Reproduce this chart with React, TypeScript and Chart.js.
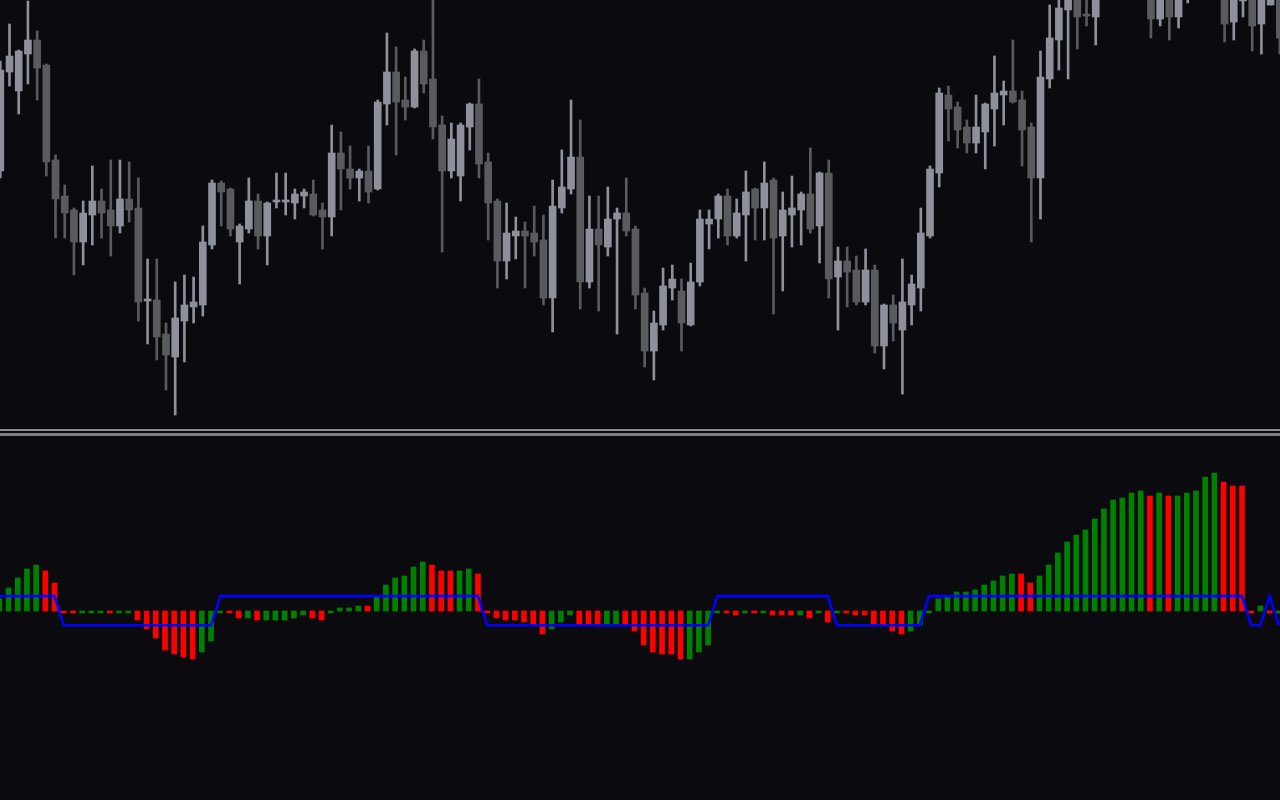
import React, { useEffect, useRef } from "react";
import { Chart, registerables } from "chart.js";

Chart.register(...registerables);

// ---- price candles (points) ----
const opens = [
  259, 358, 339, 376, 390, 365, 270, 234, 220, 188, 215, 229, 220, 204, 231, 222, 129, 130, 96, 73,
  109, 123, 125, 185, 247, 241, 188, 201, 229, 194, 228, 228, 227, 234, 236, 220, 213, 277, 261, 252,
  259, 241, 326, 358, 330, 323, 379, 351, 305, 259, 254, 303, 326, 268, 229, 169, 194, 199, 197, 190,
  132, 222, 241, 273, 148, 201, 183, 211, 217, 201, 137, 79, 105, 142, 139, 105, 148, 206, 211, 234,
  194, 215, 241, 222, 250, 194, 215, 220, 236, 204, 257, 153, 169, 160, 128, 160, 84, 125, 100, 125,
  142, 194, 257, 335, 323, 303, 287, 298, 321, 335, 339, 330, 303, 252, 351, 390, 420, 455, 415, 413,
  440, 470, 490, 475, 500, 450, 411, 450, 413, 440, 460, 480, 460, 450, 408, 429, 445, 406, 425, 440,
];
const highs = [
  369, 406, 380, 429, 399, 366, 275, 245, 222, 229, 264, 241, 270, 270, 268, 252, 171, 171, 107, 148,
  155, 153, 204, 250, 249, 242, 206, 252, 236, 228, 257, 257, 241, 241, 250, 227, 305, 298, 284, 261,
  284, 330, 397, 383, 353, 381, 390, 432, 314, 307, 307, 327, 351, 277, 231, 227, 213, 208, 224, 215,
  250, 280, 330, 310, 234, 234, 243, 222, 252, 204, 142, 119, 162, 165, 151, 167, 220, 220, 236, 241,
  231, 259, 242, 268, 252, 238, 254, 238, 282, 258, 270, 183, 183, 174, 181, 165, 126, 135, 171, 155,
  222, 264, 342, 344, 328, 310, 335, 327, 374, 349, 390, 339, 307, 379, 425, 440, 465, 470, 460, 460,
  485, 505, 500, 510, 515, 470, 460, 465, 470, 480, 495, 500, 490, 470, 460, 450, 460, 455, 470, 455,
];
const lows = [
  252, 344, 316, 346, 330, 254, 192, 192, 155, 165, 185, 192, 174, 197, 208, 109, 86, 70, 40, 15,
  68, 107, 114, 181, 204, 194, 146, 197, 181, 165, 222, 215, 211, 222, 214, 181, 194, 220, 241, 229,
  227, 240, 305, 275, 310, 322, 337, 291, 178, 252, 229, 280, 252, 190, 142, 151, 171, 142, 174, 125,
  98, 217, 236, 121, 142, 119, 174, 96, 194, 121, 63, 50, 100, 130, 79, 104, 144, 181, 192, 185,
  192, 169, 190, 190, 116, 139, 183, 185, 197, 167, 132, 100, 123, 125, 125, 77, 61, 89, 36, 105,
  119, 192, 243, 289, 282, 277, 277, 261, 284, 305, 327, 264, 188, 211, 342, 360, 351, 381, 404, 385,
  435, 460, 465, 470, 470, 392, 404, 390, 402, 427, 440, 450, 438, 388, 390, 413, 379, 376, 425, 376,
];
const closes = [
  360, 374, 379, 390, 362, 268, 231, 217, 188, 217, 229, 217, 204, 231, 220, 128, 130, 93, 75, 112,
  125, 128, 188, 247, 238, 201, 204, 229, 194, 227, 229, 229, 236, 238, 215, 213, 277, 261, 252, 259,
  238, 328, 358, 328, 323, 379, 346, 303, 259, 291, 305, 326, 266, 227, 169, 197, 199, 194, 188, 132,
  224, 243, 273, 148, 201, 185, 211, 217, 199, 135, 79, 107, 144, 151, 107, 148, 211, 211, 234, 194,
  217, 238, 222, 247, 192, 220, 222, 236, 201, 257, 151, 169, 158, 128, 160, 84, 125, 107, 128, 146,
  197, 261, 337, 321, 300, 287, 303, 326, 337, 339, 328, 300, 252, 353, 392, 422, 450, 413, 414, 440,
  470, 490, 475, 500, 480, 411, 445, 413, 450, 460, 480, 460, 470, 406, 440, 430, 404, 435, 445, 392,
];

// ---- oscillator histogram and trend signal ----
const histValues = [
  12, 23, 33, 42, 46, 40, 28, -2, -2, -2, -2, -2, -2, -2, -2, -9, -18, -27, -39, -43,
  -46, -48, -41, -30, -2, -2, -7, -7, -9, -9, -9, -9, -7, -4, -7, -9, -2, 3, 3, 5,
  5, 14, 26, 33, 35, 44, 49, 46, 40, 40, 40, 42, 37, -2, -7, -9, -9, -11, -14, -23,
  -18, -11, -4, -14, -14, -14, -14, -14, -14, -20, -34, -41, -43, -43, -48, -48, -41, -34, -2, -2,
  -4, -2, -2, -2, -4, -4, -4, -4, -7, -2, -11, -2, -2, -4, -4, -14, -14, -20, -23, -20,
  -14, -2, 12, 14, 19, 19, 21, 26, 30, 35, 37, 37, 28, 35, 46, 58, 69, 76, 81, 92,
  102, 111, 113, 118, 120, 115, 118, 115, 115, 118, 120, 134, 138, 129, 125, 125, -2, 5, -2, -2,
];
// "g" = rising bar, "r" = falling bar
const histTrend = [
  "g", "g", "g", "g", "g", "r", "r", "r", "r", "g", "g", "g", "r", "g", "g", "r", "r", "r", "r", "r",
  "r", "r", "g", "g", "g", "r", "r", "g", "r", "g", "g", "g", "g", "g", "r", "r", "g", "g", "g", "g",
  "r", "g", "g", "g", "g", "g", "g", "r", "r", "r", "g", "g", "r", "r", "r", "r", "r", "r", "r", "r",
  "g", "g", "g", "r", "r", "r", "g", "g", "r", "r", "r", "r", "r", "r", "r", "g", "g", "g", "g", "r",
  "r", "g", "r", "g", "r", "r", "r", "g", "r", "g", "r", "g", "r", "r", "r", "r", "r", "r", "r", "g",
  "g", "g", "g", "g", "g", "g", "g", "g", "g", "g", "g", "r", "r", "g", "g", "g", "g", "g", "g", "g",
  "g", "g", "g", "g", "g", "r", "g", "r", "g", "g", "g", "g", "g", "r", "r", "r", "r", "g", "r", "g",
];
const signal = [
  1, 1, 1, 1, 1, 1, 1, -1, -1, -1, -1, -1, -1, -1, -1, -1, -1, -1, -1, -1,
  -1, -1, -1, -1, 1, 1, 1, 1, 1, 1, 1, 1, 1, 1, 1, 1, 1, 1, 1, 1,
  1, 1, 1, 1, 1, 1, 1, 1, 1, 1, 1, 1, 1, -1, -1, -1, -1, -1, -1, -1,
  -1, -1, -1, -1, -1, -1, -1, -1, -1, -1, -1, -1, -1, -1, -1, -1, -1, -1, 1, 1,
  1, 1, 1, 1, 1, 1, 1, 1, 1, 1, 1, -1, -1, -1, -1, -1, -1, -1, -1, -1,
  -1, 1, 1, 1, 1, 1, 1, 1, 1, 1, 1, 1, 1, 1, 1, 1, 1, 1, 1, 1,
  1, 1, 1, 1, 1, 1, 1, 1, 1, 1, 1, 1, 1, 1, 1, 1, -1, -1, 1, -1,
];

const BG = "#0a0a0f";
const BULL = "#8e909b";
const BEAR = "#5a5b5f";
const UP = "#008000";
const DOWN = "#ff0000";
const SIGNAL = "#0000ff";

const WIDTH = 1280;
const TOP_H = 428;
const BOTTOM_TOP = 437;
const BOTTOM_H = 800 - BOTTOM_TOP;

const baseOptions = {
  responsive: false,
  animation: false as const,
  devicePixelRatio: 1,
  events: [] as any[],
  layout: { padding: 0 },
  plugins: { legend: { display: false }, tooltip: { enabled: false } },
};

function PriceChart() {
  const ref = useRef<HTMLCanvasElement | null>(null);
  useEffect(() => {
    if (!ref.current) return;
    const idx = opens.map((_, i) => i);
    const colors = idx.map((i) => (closes[i] >= opens[i] ? BULL : BEAR));
    const chart = new Chart(ref.current, {
      type: "bar",
      data: {
        datasets: [
          {
            data: idx.map((i) => ({ x: i, y: [lows[i], highs[i]] })) as any,
            backgroundColor: colors,
            barThickness: 2,
            grouped: false,
            borderWidth: 0,
          },
          {
            data: idx.map((i) => ({
              x: i,
              y: [Math.min(opens[i], closes[i]), Math.max(opens[i], closes[i])],
            })) as any,
            backgroundColor: colors,
            barThickness: 7,
            minBarLength: 2,
            grouped: false,
            borderWidth: 0,
          },
        ],
      },
      options: {
        ...baseOptions,
        scales: {
          x: { type: "linear", display: false, offset: false, min: -0.033, max: 139.02 },
          y: { type: "linear", display: false, min: 2, max: 430 },
        },
      } as any,
    });
    return () => chart.destroy();
  }, []);
  return (
    <canvas
      ref={ref}
      width={WIDTH}
      height={TOP_H}
      style={{ position: "absolute", left: 0, top: 0, width: WIDTH, height: TOP_H }}
    />
  );
}

function OscillatorChart() {
  const ref = useRef<HTMLCanvasElement | null>(null);
  useEffect(() => {
    if (!ref.current) return;
    const idx = histValues.map((_, i) => i);
    const chart = new Chart(ref.current, {
      type: "bar",
      data: {
        datasets: [
          {
            type: "bar",
            data: idx.map((i) => ({ x: i, y: histValues[i] })) as any,
            backgroundColor: idx.map((i) => (histTrend[i] === "g" ? UP : DOWN)),
            barThickness: 5,
            grouped: false,
            borderWidth: 0,
            yAxisID: "y",
            order: 2,
          },
          {
            type: "line",
            data: idx.map((i) => ({ x: i, y: signal[i] })) as any,
            borderColor: SIGNAL,
            borderWidth: 2.6,
            pointRadius: 0,
            tension: 0,
            fill: false,
            yAxisID: "ySig",
            order: 1,
          } as any,
        ],
      },
      options: {
        ...baseOptions,
        scales: {
          x: { type: "linear", display: false, offset: false, min: 0.076, max: 139.13 },
          y: { type: "linear", display: false, min: -189, max: 174 },
          ySig: { type: "linear", display: false, min: -12.97, max: 11.9 },
        },
      } as any,
    });
    return () => chart.destroy();
  }, []);
  return (
    <canvas
      ref={ref}
      width={WIDTH}
      height={BOTTOM_H}
      style={{ position: "absolute", left: 0, top: BOTTOM_TOP, width: WIDTH, height: BOTTOM_H }}
    />
  );
}

export default function App() {
  return (
    <div
      style={{
        position: "fixed",
        left: 0,
        top: 0,
        width: WIDTH,
        height: 800,
        background: BG,
        overflow: "hidden",
      }}
    >
      <PriceChart />
      <div style={{ position: "absolute", left: 0, top: 429, width: WIDTH, height: 2, background: "#8c8c8f" }} />
      <div style={{ position: "absolute", left: 0, top: 433, width: WIDTH, height: 3, background: "#808083" }} />
      <OscillatorChart />
    </div>
  );
}
